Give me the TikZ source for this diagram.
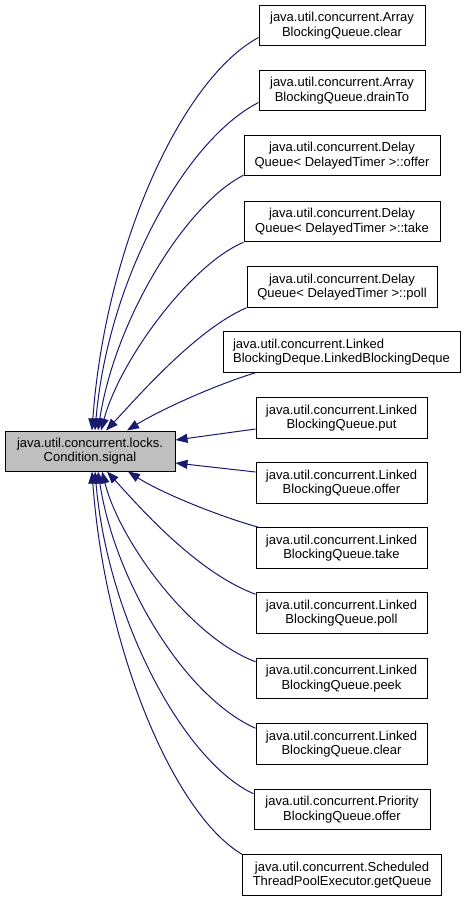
\documentclass[tikz,border=0pt]{standalone}
\usepackage{fontspec}
\setmainfont{Liberation Sans}
\usetikzlibrary{arrows.meta}
\definecolor{edgeblue}{RGB}{25,25,112}
\definecolor{boxgray}{RGB}{191,191,191}
\begin{document}
\begin{tikzpicture}[x=1pt,y=-1pt,
  box/.style={draw=black,line width=1pt,fill=white,inner sep=0pt,minimum height=40.5pt,align=center,
    font=\fontsize{13}{14.5}\selectfont},
  edge/.style={draw=edgeblue,line width=1pt,{Triangle[length=12pt,width=9pt]}-}]
\useasboundingbox (0,0) rectangle (467,901);
\node[box,fill=boxgray,minimum width=170pt,minimum height=40pt] (L) at (90,451) {java.util.concurrent.locks.\\Condition.signal};
\node[box,minimum width=166pt] (n1) at (342,25.5) {java.util.concurrent.Array\\BlockingQueue.clear};
\node[box,minimum width=166pt] (n2) at (342,90.5) {java.util.concurrent.Array\\BlockingQueue.drainTo};
\node[box,minimum width=196pt] (n3) at (342,155.5) {java.util.concurrent.Delay\\Queue< DelayedTimer >::offer};
\node[box,minimum width=196pt] (n4) at (342,221.5) {java.util.concurrent.Delay\\Queue< DelayedTimer >::take};
\node[box,minimum width=190pt] (n5) at (342,287) {java.util.concurrent.Delay\\Queue< DelayedTimer >::poll};
\node[box,minimum width=237pt,align=left] (n6) at (341.5,352) {java.util.concurrent.Linked\\BlockingDeque.LinkedBlockingDeque};
\node[box,minimum width=171pt] (n7) at (341.5,418) {java.util.concurrent.Linked\\BlockingQueue.put};
\node[box,minimum width=171pt] (n8) at (341.5,483) {java.util.concurrent.Linked\\BlockingQueue.offer};
\node[box,minimum width=171pt] (n9) at (341.5,548) {java.util.concurrent.Linked\\BlockingQueue.take};
\node[box,minimum width=171pt] (n10) at (341.5,613) {java.util.concurrent.Linked\\BlockingQueue.poll};
\node[box,minimum width=171pt] (n11) at (341.5,678.5) {java.util.concurrent.Linked\\BlockingQueue.peek};
\node[box,minimum width=171pt] (n12) at (341.5,744) {java.util.concurrent.Linked\\BlockingQueue.clear};
\node[box,minimum width=176pt] (n13) at (342,809.5) {java.util.concurrent.Priority\\BlockingQueue.offer};
\node[box,minimum width=199pt] (n14) at (342,875) {java.util.concurrent.Scheduled\\ThreadPoolExecutor.getQueue};
% top group
\draw[edge] ([xshift=2]L.north) .. controls (105,250) and (180,80) .. ([yshift=-12]n1.west);
\draw[edge] ([xshift=5]L.north) .. controls (108,280) and (185,140) .. ([yshift=-12]n2.west);
\draw[edge] ([xshift=8]L.north) .. controls (115,320) and (185,205) .. ([yshift=1]n3.south west);
\draw[edge] ([xshift=11]L.north) .. controls (120,360) and (190,265) .. (n4.south west);
\draw[edge] ([xshift=16]L.north) .. controls (135,400) and (195,330) .. (n5.south west);
\draw[edge] ([xshift=37]L.north) .. controls (160,410) and (215,385) .. ([xshift=33]n6.south west);
% right side
\draw[edge] ([yshift=11]L.east) -- ([yshift=-11]n7.west);
\draw[edge] ([yshift=-12]L.east) -- ([yshift=11]n8.west);
% bottom group
\draw[edge] ([xshift=38]L.south) .. controls (160,492) and (215,515) .. ([xshift=3]n9.north west);
\draw[edge] ([xshift=17]L.south) .. controls (135,502) and (195,572) .. ([yshift=-2]n10.north west);
\draw[edge] ([xshift=12]L.south) .. controls (120,542) and (190,637) .. ([yshift=-4]n11.north west);
\draw[edge] ([xshift=8]L.south) .. controls (115,582) and (185,697) .. ([yshift=-5]n12.north west);
\draw[edge] ([xshift=5]L.south) .. controls (108,622) and (185,762) .. ([yshift=-5]n13.north west);
\draw[edge] ([xshift=2]L.south) .. controls (105,652) and (175,815) .. (n14.north west);
\end{tikzpicture}
\end{document}
